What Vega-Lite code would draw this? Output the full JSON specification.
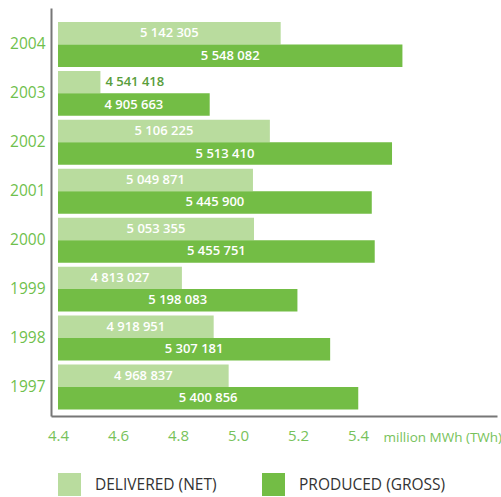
{
  "$schema": "https://vega.github.io/schema/vega-lite/v6.json",
  "width": 446,
  "height": 408,
  "autosize": {"type": "none"},
  "padding": {"left": 51, "top": 8, "right": 4, "bottom": 81},
  "background": "white",
  "config": {
    "view": {"stroke": null},
    "font": "Open Sans",
    "locale": {"number": {"decimal": ".", "thousands": " ", "grouping": [3], "currency": ["", ""]}}
  },
  "data": {
    "values": [
      {"year": "2004", "series": "DELIVERED (NET)", "mwh": 5142305},
      {"year": "2004", "series": "PRODUCED (GROSS)", "mwh": 5548082},
      {"year": "2003", "series": "DELIVERED (NET)", "mwh": 4541418},
      {"year": "2003", "series": "PRODUCED (GROSS)", "mwh": 4905663},
      {"year": "2002", "series": "DELIVERED (NET)", "mwh": 5106225},
      {"year": "2002", "series": "PRODUCED (GROSS)", "mwh": 5513410},
      {"year": "2001", "series": "DELIVERED (NET)", "mwh": 5049871},
      {"year": "2001", "series": "PRODUCED (GROSS)", "mwh": 5445900},
      {"year": "2000", "series": "DELIVERED (NET)", "mwh": 5053355},
      {"year": "2000", "series": "PRODUCED (GROSS)", "mwh": 5455751},
      {"year": "1999", "series": "DELIVERED (NET)", "mwh": 4813027},
      {"year": "1999", "series": "PRODUCED (GROSS)", "mwh": 5198083},
      {"year": "1998", "series": "DELIVERED (NET)", "mwh": 4918951},
      {"year": "1998", "series": "PRODUCED (GROSS)", "mwh": 5307181},
      {"year": "1997", "series": "DELIVERED (NET)", "mwh": 4968837},
      {"year": "1997", "series": "PRODUCED (GROSS)", "mwh": 5400856}
    ]
  },
  "encoding": {
    "y": {
      "field": "year",
      "type": "nominal",
      "sort": "descending",
      "scale": {"paddingInner": 0.082, "paddingOuter": 0.21, "align": 0.68},
      "axis": {
        "title": null,
        "domainColor": "#777777",
        "domainWidth": 2,
        "ticks": false,
        "labelColor": "#6fbf4c",
        "labelFontSize": 15.5,
        "labelPadding": 6,
        "labelFont": "Open Sans"
      }
    },
    "yOffset": {
      "field": "series",
      "type": "nominal",
      "scale": {"domain": ["DELIVERED (NET)", "PRODUCED (GROSS)"], "paddingInner": 0, "paddingOuter": 0}
    },
    "x": {
      "field": "mwh",
      "type": "quantitative",
      "scale": {"domain": [4376667, 5863333], "nice": false, "zero": false},
      "axis": {
        "title": "million MWh (TWh)",
        "values": [4400000, 4600000, 4800000, 5000000, 5200000, 5400000],
        "labelExpr": "format(datum.value / 1000000, '.1f')",
        "labelFlush": false,
        "domainColor": "#777777",
        "domainWidth": 2,
        "ticks": false,
        "grid": false,
        "labelColor": "#77c25a",
        "labelFontSize": 15,
        "labelFont": "Open Sans",
        "labelPadding": 12,
        "titleX": 332,
        "titleY": 21,
        "titleAlign": "left",
        "titleBaseline": "middle",
        "titleFontSize": 13.5,
        "titleFontWeight": "normal",
        "titleColor": "#77c25a",
        "titleFont": "Open Sans"
      }
    }
  },
  "layer": [
    {
      "mark": {"type": "bar"},
      "encoding": {
        "x2": {"datum": 4400000},
        "color": {
          "field": "series",
          "type": "nominal",
          "scale": {"domain": ["DELIVERED (NET)", "PRODUCED (GROSS)"], "range": ["#b9dc9e", "#73bd45"]},
          "legend": {
            "orient": "none",
            "legendX": 7,
            "legendY": 465,
            "direction": "horizontal",
            "title": null,
            "symbolType": "square",
            "symbolSize": 529,
            "symbolStrokeWidth": 0,
            "labelFontSize": 15.5,
            "labelFont": "Open Sans",
            "labelColor": "#333333",
            "labelOffset": 14,
            "columnPadding": 45,
            "padding": 0
          }
        }
      }
    },
    {
      "transform": [{"filter": "datum.mwh >= 4700000"}],
      "mark": {
        "type": "text",
        "color": "white",
        "fontWeight": 600,
        "fontSize": 13,
        "baseline": "middle",
        "align": "center",
        "font": "Open Sans",
        "dx": {"expr": "(scale('x', 4400000) - scale('x', datum.mwh)) / 2"}
      },
      "encoding": {
        "text": {"field": "mwh", "type": "quantitative", "format": ",d"}
      }
    },
    {
      "transform": [{"filter": "datum.mwh < 4700000"}],
      "mark": {"type": "text", "color": "#5a9e3c", "fontWeight": 600, "fontSize": 13, "baseline": "middle", "align": "left", "dx": 5, "font": "Open Sans"},
      "encoding": {
        "text": {"field": "mwh", "type": "quantitative", "format": ",d"}
      }
    }
  ]
}
